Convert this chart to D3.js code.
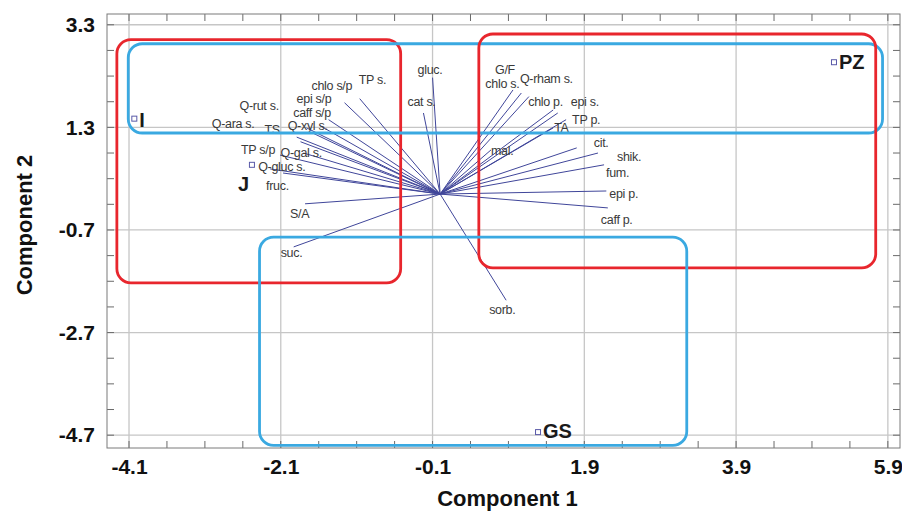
<!DOCTYPE html>
<html lang="en">
<head>
<meta charset="UTF-8">
<title>Component 1 vs Component 2</title>
<script src="https://d3js.org/d3.v7.min.js"></script>
<style>
  body { margin: 0; background: #fff; }
  text { font-family: "Liberation Sans", Arial, sans-serif; }
  .grid line { stroke: #c6c6c6; stroke-width: 1.3px; }
  .frame { fill: none; stroke: #7a7a7a; stroke-width: 1px; }
  .minor line { stroke: #6a6a6a; stroke-width: 1px; }
  .vec { stroke: #40469a; stroke-width: 1px; }
  .vlab { font-size: 12.5px; fill: #3a3a3a; letter-spacing: -0.3px; }
  .slab { font-weight: bold; font-size: 20px; fill: #1a1a1a; }
  .tlab { font-weight: bold; font-size: 21px; fill: #111; }
  .title { font-weight: bold; font-size: 22px; fill: #111; }
</style>
</head>
<body>
<script>
// loadings (vector ends)
const varNames = ["gluc.", "cat s.", "TP s.", "chlo s/p", "epi s/p", "caff s/p", "Q-rut s.", "Q-ara s.",
  "TS", "Q-xyl s.", "TP s/p", "Q-gal s.", "Q-gluc s.", "fruc.", "S/A", "suc.", "sorb.",
  "G/F", "chlo s.", "Q-rham s.", "chlo p.", "epi s.", "TP p.", "TA", "mal.", "cit.", "shik.", "fum.", "epi p.", "caff p."];
const varX = [-0.10, -0.22, -1.06, -1.26, -1.47, -1.58, -1.76, -1.89,
  -1.84, -1.68, -2.11, -1.80, -2.24, -2.07, -1.78, -1.93, 0.87,
  0.96, 1.07, 1.17, 1.49, 1.55, 1.66, 1.49, 0.67, 1.80, 2.08, 2.16, 2.19, 2.21];
const varY = [2.27, 1.58, 1.86, 1.78, 1.45, 1.33, 1.29, 1.11,
  1.02, 1.19, 0.76, 0.80, 0.49, 0.41, -0.19, -1.03, -2.07,
  2.03, 1.97, 1.90, 1.64, 1.58, 1.45, 1.29, 0.86, 0.90, 0.80, 0.57, 0.06, -0.27];

// scores
const sampleNames = ["I", "J", "PZ", "GS"];
const sampleX = [-4.03, -2.48, 5.19, 1.29];
const sampleY = [1.47, 0.57, 2.57, -4.64];

// grouping boxes
const boxColor = ["#e8262d", "#3aa9e1", "#e8262d", "#3aa9e1"];
const boxX0 = [-4.26, -4.11, 0.51, -2.38];
const boxX1 = [-0.52, 5.83, 5.74, 3.25];
const boxY0 = [-1.73, 1.19, -1.44, -4.90];
const boxY1 = [3.01, 2.93, 3.12, -0.84];

const xTicks = [-4.1, -2.1, -0.1, 1.9, 3.9, 5.9];
const yTicks = [3.3, 1.3, -0.7, -2.7, -4.7];
const xDomain = [-4.39, 6.06];
const yDomain = [-4.95, 3.51];

// label placement (pixel nudges from vector end)
const nudge = {
  "gluc.": [-15, -4], "cat s.": [-16, -7], "TP s.": [-1, -15], "chlo s/p": [-33, -13],
  "epi s/p": [-32, -17], "caff s/p": [-27, -9], "Q-rut s.": [-67, -18], "Q-ara s.": [-85, -9],
  "TS": [-36, -8], "Q-xyl s.": [-25, -3], "TP s/p": [-39, -1], "Q-gal s.": [-23, 4],
  "Q-gluc s.": [-12, 2], "fruc.": [-17, 17], "S/A": [-15, 14], "suc.": [-13, 10], "sorb.": [-17, 14],
  "G/F": [-18, -16], "chlo s.": [-36, -5], "Q-rham s.": [-9, -14], "chlo p.": [-25, -4],
  "epi s.": [13, -7], "TP p.": [6, 4], "TA": [1, 4], "mal.": [0, 5], "cit.": [17, -1],
  "shik.": [19, 8], "fum.": [2, 12], "epi p.": [3, 7], "caff p.": [-7, 16]
};
const sampleNudge = { "I": [5, 8], "J": [-14, 26], "PZ": [5, 7], "GS": [5, 6] };

const width = 902, height = 513;
const pLeft = 107, pRight = 900, pTop = 14, pBottom = 448;

const svg = d3.select("body").append("svg")
  .attr("width", width)
  .attr("height", height);

const x = d3.scaleLinear().domain(xDomain).range([pLeft, pRight]);
const y = d3.scaleLinear().domain(yDomain).range([pBottom, pTop]);

// gridlines
const grid = svg.append("g").attr("class", "grid");
grid.selectAll(".gx").data(xTicks).enter().append("line")
  .attr("x1", d => x(d)).attr("x2", d => x(d))
  .attr("y1", pTop).attr("y2", pBottom);
grid.selectAll(".gy").data(yTicks).enter().append("line")
  .attr("x1", pLeft).attr("x2", pRight)
  .attr("y1", d => y(d)).attr("y2", d => y(d));

// minor ticks every 0.5 on all four sides
const xMinor = d3.range(-1, 21).map(i => -4.1 + i * 0.5).filter(v => v > xDomain[0] && v < xDomain[1]);
const yMinor = d3.range(-1, 18).map(i => -4.7 + i * 0.5).filter(v => v > yDomain[0] && v < yDomain[1]);
const tl = 7;
const minor = svg.append("g").attr("class", "minor");
xMinor.forEach(v => {
  minor.append("line").attr("x1", x(v)).attr("x2", x(v)).attr("y1", pBottom).attr("y2", pBottom - tl);
  minor.append("line").attr("x1", x(v)).attr("x2", x(v)).attr("y1", pTop).attr("y2", pTop + tl);
});
yMinor.forEach(v => {
  minor.append("line").attr("x1", pLeft).attr("x2", pLeft + tl).attr("y1", y(v)).attr("y2", y(v));
  minor.append("line").attr("x1", pRight).attr("x2", pRight - tl).attr("y1", y(v)).attr("y2", y(v));
});

svg.append("rect").attr("class", "frame")
  .attr("x", pLeft).attr("y", pTop)
  .attr("width", pRight - pLeft).attr("height", pBottom - pTop);

// tick labels (plain hyphen as minus, like the original)
const fmt = d3.formatLocale({ decimal: ".", thousands: ",", grouping: [3], currency: ["", ""], minus: "-" }).format(".1f");
const xAxis = svg.append("g")
  .attr("transform", `translate(0,${pBottom})`)
  .call(d3.axisBottom(x).tickValues(xTicks).tickFormat(fmt).tickSize(0).tickPadding(11));
const yAxis = svg.append("g")
  .attr("transform", `translate(${pLeft},0)`)
  .call(d3.axisLeft(y).tickValues(yTicks).tickFormat(fmt).tickSize(0).tickPadding(12));
[xAxis, yAxis].forEach(a => {
  a.select(".domain").remove();
  a.attr("font-family", null).attr("font-size", null);
  a.selectAll("text").attr("class", "tlab");
});

// axis titles
svg.append("text").attr("class", "title")
  .attr("x", (pLeft + pRight) / 2 + 4).attr("y", 506)
  .attr("text-anchor", "middle").text("Component 1");
svg.append("text").attr("class", "title")
  .attr("transform", `translate(32,${(pTop + pBottom) / 2 - 6}) rotate(-90)`)
  .attr("text-anchor", "middle").text("Component 2");

// loading vectors
const vars = varNames.map((n, i) => ({ name: n, vx: varX[i], vy: varY[i] }));
svg.append("g").selectAll("line").data(vars).enter().append("line")
  .attr("class", "vec")
  .attr("x1", x(0)).attr("y1", y(0))
  .attr("x2", d => x(d.vx)).attr("y2", d => y(d.vy));

svg.append("g").selectAll("text").data(vars).enter().append("text")
  .attr("class", "vlab")
  .attr("x", d => x(d.vx) + nudge[d.name][0])
  .attr("y", d => y(d.vy) + nudge[d.name][1])
  .text(d => d.name);

// group boxes
svg.append("g").selectAll("rect").data(boxColor).enter().append("rect")
  .attr("x", (d, i) => x(boxX0[i]))
  .attr("y", (d, i) => y(boxY1[i]))
  .attr("width", (d, i) => x(boxX1[i]) - x(boxX0[i]))
  .attr("height", (d, i) => y(boxY0[i]) - y(boxY1[i]))
  .attr("rx", 14).attr("ry", 14)
  .attr("fill", "none")
  .attr("stroke", d => d)
  .attr("stroke-width", 2.8);

// samples
const samples = sampleNames.map((n, i) => ({ name: n, sx: sampleX[i], sy: sampleY[i] }));
const sg = svg.append("g");
sg.selectAll("rect").data(samples).enter().append("rect")
  .attr("x", d => x(d.sx) - 2.5).attr("y", d => y(d.sy) - 2.5)
  .attr("width", 5).attr("height", 5)
  .attr("fill", "#fff").attr("stroke", "#5a5aa8").attr("stroke-width", 1);
sg.selectAll("text").data(samples).enter().append("text")
  .attr("class", "slab")
  .attr("x", d => x(d.sx) + sampleNudge[d.name][0])
  .attr("y", d => y(d.sy) + sampleNudge[d.name][1])
  .text(d => d.name);
</script>
</body>
</html>
